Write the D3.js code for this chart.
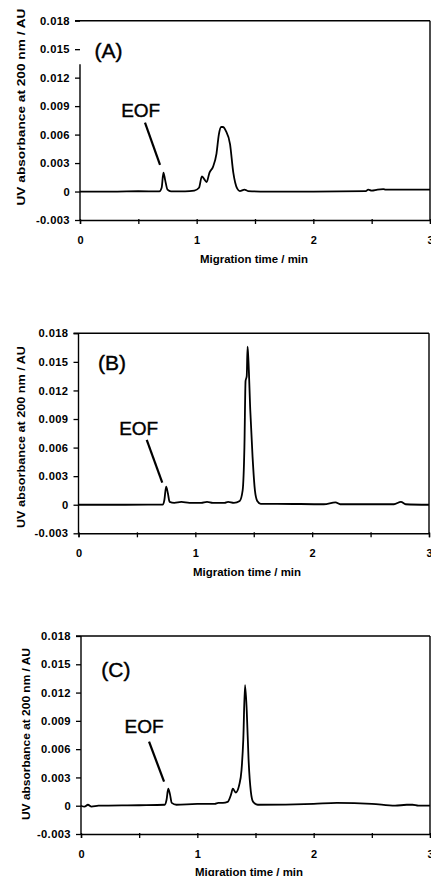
<!DOCTYPE html>
<html><head><meta charset="utf-8">
<script src="https://cdn.jsdelivr.net/npm/d3@7"></script>
<style>body{margin:0;background:#fff}svg{display:block}</style>
</head><body>
<svg id="c" width="431" height="876"></svg>
<script>
// ---- data ----
const timeA = [0, 0.3, 0.5, 0.68, 0.70, 0.715, 0.73, 0.75, 0.78, 0.9, 0.98, 1.02, 1.045, 1.065, 1.085, 1.11, 1.14, 1.17, 1.19, 1.21, 1.225, 1.25, 1.286, 1.314, 1.348, 1.37, 1.41, 1.44, 1.6, 2.0, 2.45, 2.47, 2.5, 2.55, 2.6, 2.62, 3.0];
const absA  = [0, 0, 0.00003, 0.00002, 0.0004, 0.0020, 0.0012, 0.0002, 0.00002, 0.00002, 0.0001, 0.0004, 0.0016, 0.0013, 0.0010, 0.0020, 0.0026, 0.0040, 0.0060, 0.0068, 0.0068, 0.0064, 0.0050, 0.0020, 0.0003, 0.00005, 0.0002, 0.00005, 0, 0, 0.00005, 0.0002, 0.0001, 0.0002, 0.00025, 0.0002, 0.0002];

const timeB = [0, 0.4, 0.72, 0.735, 0.75, 0.765, 0.78, 0.82, 0.88, 0.95, 1.05, 1.1, 1.15, 1.25, 1.28, 1.33, 1.38, 1.405, 1.42, 1.43, 1.44, 1.447, 1.455, 1.47, 1.49, 1.51, 1.53, 1.56, 1.7, 2.1, 2.2, 2.24, 2.7, 2.76, 2.8, 3.0];
const absB  = [0, 0, 0.00002, 0.0005, 0.0019, 0.0012, 0.0003, 0.0002, 0.0003, 0.0002, 0.0002, 0.0003, 0.0002, 0.0002, 0.0003, 0.0002, 0.0004, 0.0015, 0.0060, 0.0130, 0.0135, 0.0166, 0.0150, 0.0100, 0.0050, 0.0015, 0.0004, 0.0001, 0.0001, 0.00005, 0.00025, 0.00005, 0.00005, 0.0003, 0.00005, 0];

const timeC = [0, 0.03, 0.06, 0.09, 0.15, 0.5, 0.72, 0.735, 0.75, 0.765, 0.78, 0.82, 1.0, 1.15, 1.18, 1.22, 1.26, 1.29, 1.305, 1.33, 1.36, 1.38, 1.395, 1.41, 1.425, 1.44, 1.46, 1.48, 1.52, 2.0, 2.2, 2.5, 2.7, 2.8, 2.85, 2.9, 3.0];
const absC  = [0, -0.0001, 0.0001, -0.0001, 0, 0.00005, 0.0001, 0.0006, 0.0018, 0.0012, 0.0003, 0.0001, 0.0002, 0.0002, 0.0003, 0.0003, 0.0004, 0.0012, 0.0018, 0.0014, 0.0022, 0.0038, 0.0070, 0.0128, 0.0100, 0.0050, 0.0015, 0.0004, 0.0001, 0.0002, 0.0003, 0.0002, 0, 0.0001, 0.0001, 0, 0];

const yTickValues = [-0.003, 0, 0.003, 0.006, 0.009, 0.012, 0.015, 0.018];
const yTickLabels = ["-0.003", "0", "0.003", "0.006", "0.009", "0.012", "0.015", "0.018"];
const xTickValues = [0, 0.5, 1, 1.5, 2, 2.5, 3];
const xTickLabels = ["0", "", "1", "", "2", "", "3"];
const panelNames = ["(A)", "(B)", "(C)"];
const eofText = "EOF";
const xTitle = "Migration time / min";
const yTitle = "UV absorbance at 200 nm / AU";

// ---- layout ----
const panels = [
  {t: timeA, v: absA, x0: 80, x1: 430, yTop: 20.7, yBot: 220, yTitleX: 25, yTitleLen: 197, yTitleY: 107, xTitleY: 262.5, xTitleX: 254,
   lab: [0.245, 0.01404], eof: [0.52, 0.00782], ptr: [[0.557, 0.00725], [0.686, 0.0028]], axisGapTop: 0.0134},
  {t: timeB, v: absB, x0: 78.5, x1: 429, yTop: 333.3, yBot: 533.3, yTitleX: 25, yTitleLen: 182, yTitleY: 437, xTitleY: 576, xTitleX: 247,
   lab: [0.287, 0.01415], eof: [0.515, 0.00732], ptr: [[0.584, 0.0068], [0.717, 0.00231]], axisGapTop: null},
  {t: timeC, v: absC, x0: 81, x1: 430, yTop: 636, yBot: 834, yTitleX: 30, yTitleLen: 172, yTitleY: 734, xTitleY: 875.5, xTitleX: 249,
   lab: [0.30, 0.01368], eof: [0.542, 0.00768], ptr: [[0.585, 0.00679], [0.714, 0.00255]], axisGapTop: null}
];

const svg = d3.select("#c");
const font = "'Liberation Sans', Arial, sans-serif";

panels.forEach((p, i) => {
  const x = d3.scaleLinear().domain([0, 3]).range([p.x0, p.x1]);
  const y = d3.scaleLinear().domain([-0.003, 0.018]).range([p.yBot, p.yTop]);
  const g = svg.append("g");

  // frame top and right
  g.append("line").attr("x1", x(0) - 5).attr("x2", x(3)).attr("y1", y(0.018)).attr("y2", y(0.018))
    .attr("stroke", "#000").attr("stroke-width", 1.4);
  g.append("line").attr("x1", x(3)).attr("x2", x(3)).attr("y1", y(0.018)).attr("y2", y(-0.003))
    .attr("stroke", "#000").attr("stroke-width", 1.4);

  // y axis
  const yAxis = d3.axisLeft(y).tickValues(yTickValues)
    .tickFormat((d, k) => yTickLabels[k]).tickSize(5).tickPadding(5);
  const ya = g.append("g").attr("transform", `translate(${x(0)},0)`).call(yAxis);
  ya.select(".domain").remove();
  ya.append("line").attr("x1", 0).attr("x2", 0)
    .attr("y1", p.axisGapTop != null ? y(p.axisGapTop) : y(0.018)).attr("y2", y(-0.003))
    .attr("stroke", "#000").attr("stroke-width", 1.4);
  ya.selectAll(".tick line").attr("stroke", "#000").attr("stroke-width", 1.3);
  ya.selectAll("text").attr("font-family", font).attr("font-size", 11.2).attr("font-weight", "bold")
    .attr("letter-spacing", 0.4).attr("fill", "#000");

  // x axis
  const xAxis = d3.axisBottom(x).tickValues(xTickValues)
    .tickFormat((d, k) => xTickLabels[k]).tickSize(4).tickPadding(12);
  const xa = g.append("g").attr("transform", `translate(0,${y(-0.003)})`).call(xAxis);
  xa.select(".domain").attr("stroke", "#000").attr("stroke-width", 1.4);
  xa.selectAll(".tick line").attr("stroke", "#000").attr("stroke-width", 1.3).attr("y1", -1);
  xa.selectAll("text").attr("font-family", font).attr("font-size", 11).attr("font-weight", "bold").attr("fill", "#000");

  // titles
  g.append("text").attr("x", p.xTitleX).attr("y", p.xTitleY).attr("text-anchor", "middle")
    .attr("font-family", font).attr("font-size", 10.5).attr("font-weight", "bold")
    .attr("textLength", 108).attr("lengthAdjust", "spacingAndGlyphs").text(xTitle);
  g.append("text").attr("transform", `translate(${p.yTitleX},${p.yTitleY}) rotate(-90)`).attr("text-anchor", "middle")
    .attr("font-family", font).attr("font-size", 11).attr("font-weight", "bold")
    .attr("textLength", p.yTitleLen).attr("lengthAdjust", "spacingAndGlyphs").text(yTitle);

  // trace
  const pts = p.t.map((t, k) => [t, p.v[k]]);
  g.append("path").datum(pts)
    .attr("d", d3.line().x(d => x(d[0])).y(d => y(d[1])).curve(d3.curveMonotoneX))
    .attr("fill", "none").attr("stroke", "#000").attr("stroke-width", 1.8).attr("stroke-linejoin", "round");

  // annotations
  g.append("text").attr("x", x(p.lab[0])).attr("y", y(p.lab[1])).attr("text-anchor", "middle")
    .attr("font-family", font).attr("font-size", 21).attr("stroke", "#000").attr("stroke-width", 0.4)
    .text(panelNames[i]);
  g.append("text").attr("x", x(p.eof[0])).attr("y", y(p.eof[1])).attr("text-anchor", "middle")
    .attr("font-family", font).attr("font-size", 19).attr("stroke", "#000").attr("stroke-width", 0.4)
    .text(eofText);
  g.append("line").attr("x1", x(p.ptr[0][0])).attr("y1", y(p.ptr[0][1]))
    .attr("x2", x(p.ptr[1][0])).attr("y2", y(p.ptr[1][1]))
    .attr("stroke", "#000").attr("stroke-width", 2.2);
});
</script>
</body></html>
